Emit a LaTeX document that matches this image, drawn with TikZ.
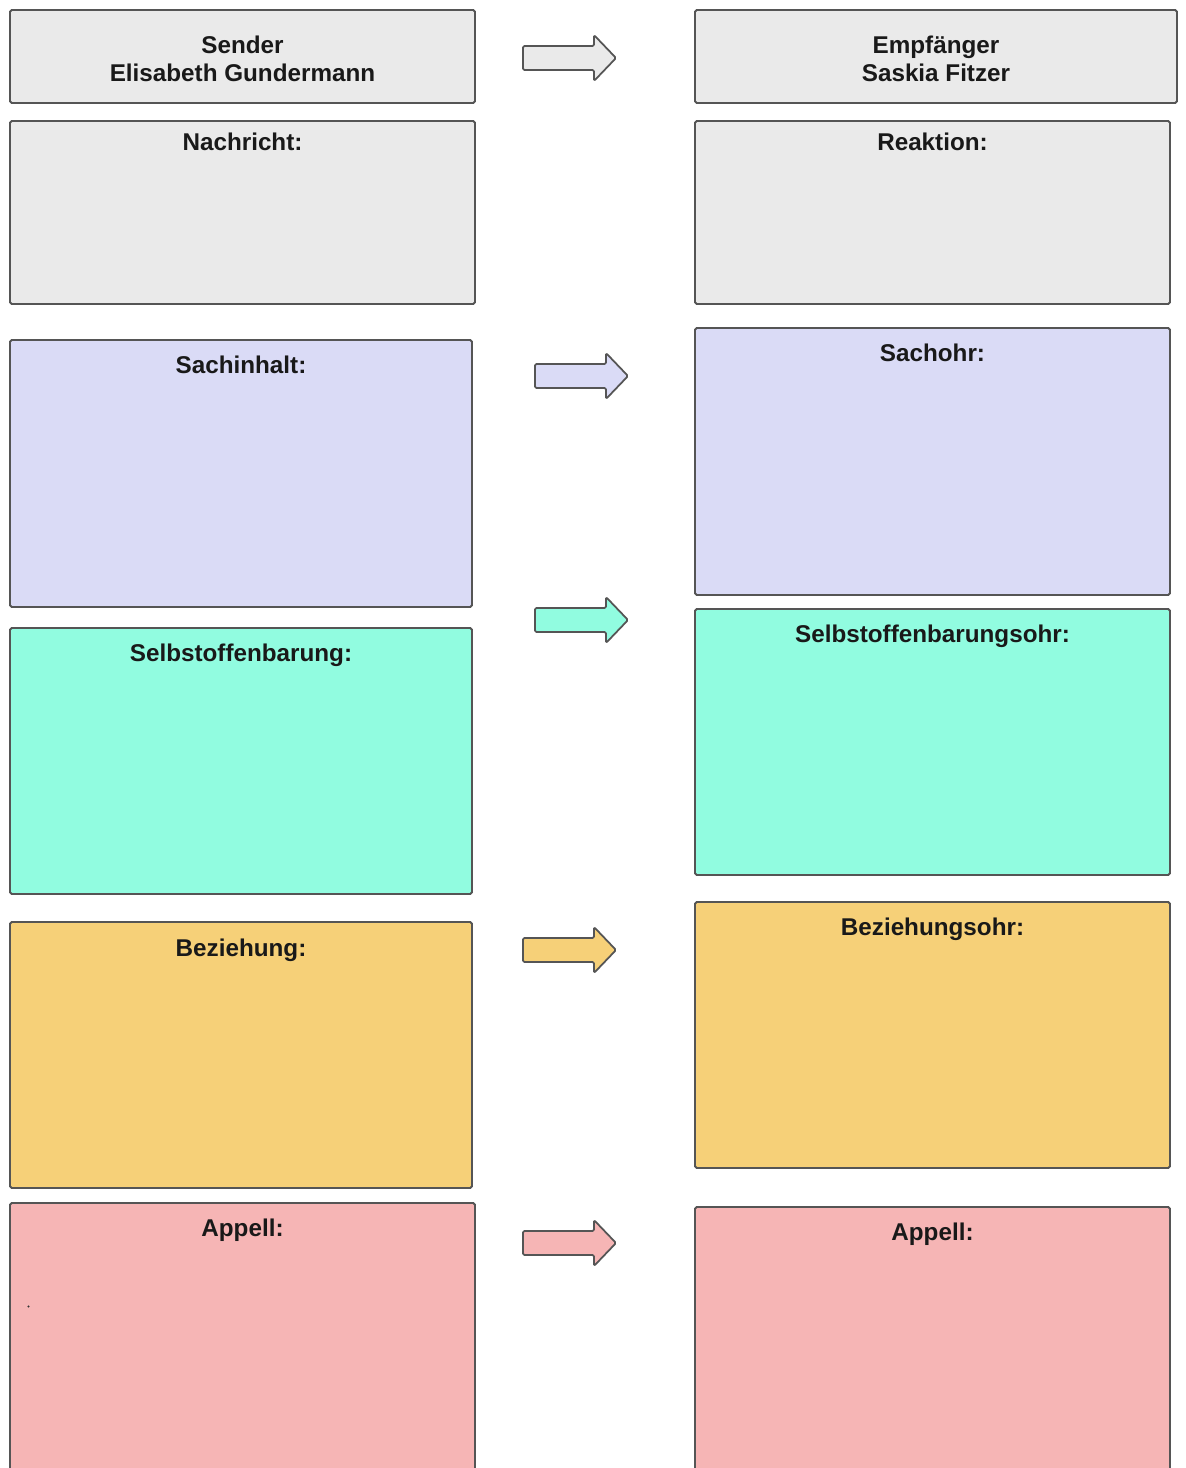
\documentclass[tikz,border=0pt]{standalone}
\usepackage{fontspec}
\setmainfont{Liberation Sans}
\usetikzlibrary{calc}
\definecolor{bxgray}{HTML}{EAEAEA}
\definecolor{bxlav}{HTML}{DADBF6}
\definecolor{bxteal}{HTML}{91FCE0}
\definecolor{bxyel}{HTML}{F6D078}
\definecolor{bxpink}{HTML}{F6B5B5}
\definecolor{edge}{HTML}{555555}
\tikzset{
  boxst/.style={draw=edge, line width=1.1pt, rounded corners=1pt, inner sep=0pt, outer sep=0pt, rectangle},
  arrst/.style={draw=edge, line width=1pt, rounded corners=0.8pt, line join=round},
  ttl/.style={font=\fontsize{13.8}{15.9}\selectfont\bfseries, text=black!90, inner sep=0pt, anchor=base},
  hdr/.style={font=\fontsize{13.8}{15.9}\selectfont\bfseries, text=black!90, inner sep=0pt, align=center}
}
\newcommand\mybox[6]{%
  \node[boxst, fill=#6, anchor=north west,
        minimum width={(#4-#2)*0.02cm}, minimum height={(#5-#3)*0.02cm}] (#1) at (#2,#3) {};}
\newcommand\fatarrow[3]{%
  \draw[arrst, fill=#3] (#1,#2-12) -- ++(71,0) -- ++(0,-11) -- ++(22,23) -- ++(-22,23) -- ++(0,-11) -- ++(-71,0) -- cycle;}
\begin{document}
\begin{tikzpicture}[x=0.02cm,y=-0.02cm]
\useasboundingbox (0,0) rectangle (1186,1468);
\clip (0,0) rectangle (1186,1468);
% header boxes
\mybox{sender}{10}{10}{475}{103}{bxgray}
\mybox{empf}{695}{10}{1177}{103}{bxgray}
\node[hdr] (sendertxt) at ($(sender.center)+(0,2)$) {Sender\\Elisabeth Gundermann};
\node[hdr] (empftxt) at ($(empf.center)+(0,2)$) {Empfänger\\Saskia Fitzer};
% message / reaction
\mybox{nachricht}{10}{121}{475}{304}{bxgray}
\mybox{reaktion}{695}{121}{1170}{304}{bxgray}
\node[ttl] (nachrichttxt) at ($(nachricht.north)+(0,29)$) {Nachricht:};
\node[ttl] (reaktiontxt) at ($(reaktion.north)+(0,29)$) {Reaktion:};
% Sachinhalt
\mybox{sachinhalt}{10}{340}{472}{607}{bxlav}
\mybox{sachohr}{695}{328}{1170}{595}{bxlav}
\node[ttl] (sachinhalttxt) at ($(sachinhalt.north)+(0,33)$) {Sachinhalt:};
\node[ttl] (sachohrtxt) at ($(sachohr.north)+(0,33)$) {Sachohr:};
% Selbstoffenbarung
\mybox{selbst}{10}{628}{472}{894}{bxteal}
\mybox{selbstohr}{695}{609}{1170}{875}{bxteal}
\node[ttl] (selbsttxt) at ($(selbst.north)+(0,33)$) {Selbstoffenbarung:};
\node[ttl] (selbstohrtxt) at ($(selbstohr.north)+(0,33)$) {Selbstoffenbarungsohr:};
% Beziehung
\mybox{bez}{10}{922}{472}{1188}{bxyel}
\mybox{bezohr}{695}{902}{1170}{1168}{bxyel}
\node[ttl] (beztxt) at ($(bez.north)+(0,34)$) {Beziehung:};
\node[ttl] (bezohrtxt) at ($(bezohr.north)+(0,33)$) {Beziehungsohr:};
% Appell
\mybox{appell}{10}{1203}{475}{1490}{bxpink}
\mybox{appellohr}{695}{1207}{1170}{1490}{bxpink}
\node[ttl] (appelltxt) at ($(appell.north)+(0,33)$) {Appell:};
\node[ttl] (appellohrtxt) at ($(appellohr.north)+(0,33)$) {Appell:};
\fill[black!80] (28.5,1306.5) circle (1.2);
% block arrows
\fatarrow{523}{58}{bxgray}
\fatarrow{535}{376}{bxlav}
\fatarrow{535}{620}{bxteal}
\fatarrow{523}{950}{bxyel}
\fatarrow{523}{1243}{bxpink}
\end{tikzpicture}
\end{document}
